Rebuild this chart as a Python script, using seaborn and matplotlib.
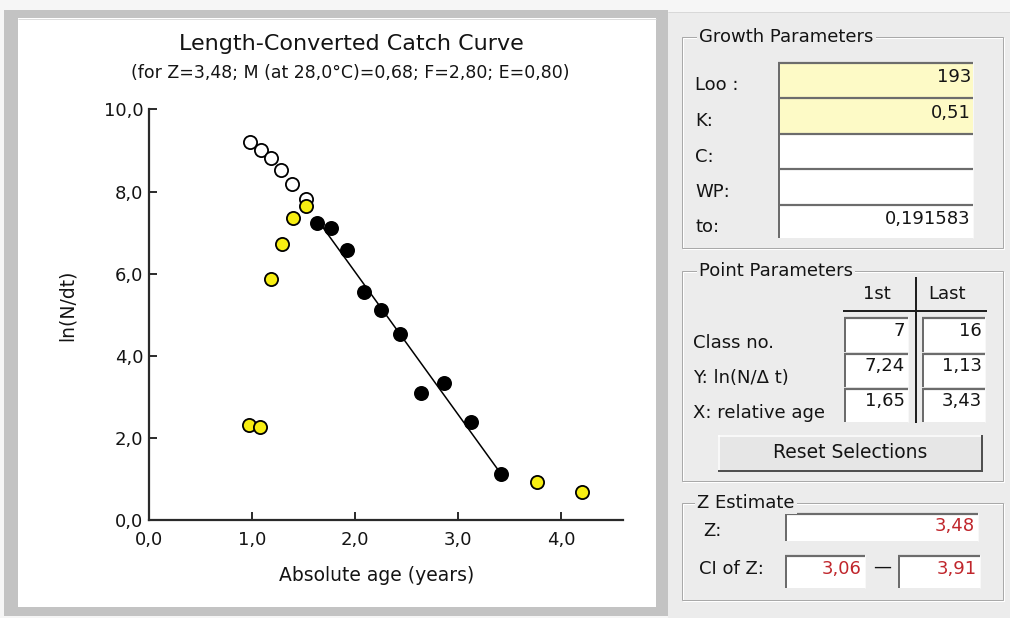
import matplotlib
matplotlib.use("Agg")
import matplotlib.pyplot as plt
import seaborn as sns
import pandas as pd
from matplotlib.patches import Rectangle

# ---------------- data ----------------
open_age = [0.98, 1.09, 1.18, 1.28, 1.39, 1.52]
open_lnN = [9.20, 9.02, 8.82, 8.52, 8.19, 7.81]
excl_age = [0.97, 1.08, 1.18, 1.29, 1.40, 1.52, 3.77, 4.20]
excl_lnN = [2.31, 2.27, 5.86, 6.72, 7.36, 7.64, 0.92, 0.68]
sel_age = [1.63, 1.77, 1.92, 2.09, 2.25, 2.44, 2.64, 2.86, 3.13, 3.42]
sel_lnN = [7.23, 7.12, 6.57, 5.55, 5.11, 4.54, 3.10, 3.34, 2.38, 1.12]

x_ticks = [0, 1, 2, 3, 4]
x_tick_labels = ["0,0", "1,0", "2,0", "3,0", "4,0"]
y_ticks = [0, 2, 4, 6, 8, 10]
y_tick_labels = ["0,0", "2,0", "4,0", "6,0", "8,0", "10,0"]

title = "Length-Converted Catch Curve"
subtitle = "(for Z=3,48; M (at 28,0°C)=0,68; F=2,80; E=0,80)"
x_label = "Absolute age (years)"
y_label = "ln(N/dt)"

growth_labels = ["Loo :", "K:", "C:", "WP:", "to:"]
growth_values = ["193", "0,51", "", "", "0,191583"]
growth_highlight = [True, True, False, False, False]

point_labels = ["Class no.", "Y: ln(N/\u0394 t)", "X: relative age"]
point_first = ["7", "7,24", "1,65"]
point_last = ["16", "1,13", "3,43"]
point_headers = ["1st", "Last"]

z_value = "3,48"
z_ci = ["3,06", "3,91"]

# ---------------- style ----------------
sns.set_style("ticks")
plt.rcParams["font.family"] = ["DejaVu Sans"]
TXT = "#141414"
RED = "#c0262c"
PANEL = "#ececec"

W, H = 1010, 618
fig = plt.figure(figsize=(W / 100, H / 100), dpi=100, facecolor="#f6f6f6")

ui = fig.add_axes([0, 0, 1, 1], zorder=0)
ui.set_xlim(0, W)
ui.set_ylim(H, 0)
ui.axis("off")

PX = 0.72  # points per pixel


def rect(x0, y0, x1, y1, fc, ec="none", lw=0.0, z=1):
    ui.add_patch(Rectangle((x0, y0), x1 - x0, y1 - y0, fc=fc, ec=ec, lw=lw, zorder=z))


def line(xs, ys, c, lw, z=3):
    ui.plot(xs, ys, color=c, lw=lw * PX, solid_capstyle="butt", zorder=z)


# right panel and left frame
rect(668, 12, W, H, PANEL)
line([668, W], [12, 12], "#d8d8d8", 1)
rect(4, 10, 668, 616, "#c3c3c3")
rect(18, 18, 656, 607, "#ffffff")
line([18, 656], [18.5, 18.5], "#dcdcdc", 1)


def group(x0, y0, x1, y1, label, tx):
    ui.add_patch(Rectangle((x0 + 1, y0 + 1), x1 - x0, y1 - y0, fc="none", ec="#ffffff", lw=1 * PX, zorder=2))
    ui.add_patch(Rectangle((x0, y0), x1 - x0, y1 - y0, fc="none", ec="#a9a9a9", lw=1 * PX, zorder=2))
    ui.text(tx, y0, label, ha="left", va="center", fontsize=13, color=TXT, zorder=4,
            bbox=dict(fc=PANEL, ec="none", pad=1.5))


def field(x0, y0, x1, y1, fc="#ffffff"):
    rect(x0, y0, x1, y1, fc, z=2)
    line([x0 + 1, x0 + 1], [y1, y0], "#6c6c6c", 2)
    line([x0, x1], [y0 + 1, y0 + 1], "#6c6c6c", 2.2)
    line([x1, x1], [y0, y1], "#f8f8f8", 1)


# Growth parameters
group(682, 37, 1003, 248, "Growth Parameters", 699)
row_top = [62, 97, 133, 168, 204]
row_bot = [97, 133, 168, 204, 238]
for lab, val, hi, t, b in zip(growth_labels, growth_values, growth_highlight, row_top, row_bot):
    field(778, t, 973, b, "#fdfac6" if hi else "#ffffff")
    ui.text(695, (t + b) / 2 + 6, lab, ha="left", va="center", fontsize=13, color=TXT, zorder=4)
    if val:
        ui.text(971, (t + b) / 2 - 2, val, ha="right", va="center", fontsize=13, color=TXT, zorder=4)

# Point parameters
group(682, 271, 1003, 481, "Point Parameters", 699)
ui.text(877, 294, point_headers[0], ha="center", va="center", fontsize=13, color=TXT, zorder=4)
ui.text(947, 294, point_headers[1], ha="center", va="center", fontsize=13, color=TXT, zorder=4)
line([916, 916], [277, 423], "#202020", 2, z=5)
line([843, 987], [311, 311], "#202020", 2, z=5)
p_top = [317, 353, 388]
p_bot = [352, 387, 422]
for lab, v1, v2, t, b in zip(point_labels, point_first, point_last, p_top, p_bot):
    field(844, t, 908, b)
    field(922, t, 985, b)
    ui.text(693, (t + b) / 2 + 8, lab, ha="left", va="center", fontsize=13, color=TXT, zorder=4)
    ui.text(905, (t + b) / 2 - 4, v1, ha="right", va="center", fontsize=13, color=TXT, zorder=4)
    ui.text(982, (t + b) / 2 - 4, v2, ha="right", va="center", fontsize=13, color=TXT, zorder=4)

# Reset button
rect(718, 435, 983, 472, "#e6e6e6", z=2)
line([719, 719], [472, 435], "#ffffff", 1.5)
line([718, 983], [436, 436], "#ffffff", 1.5)
line([982, 982], [435, 472], "#505050", 2)
line([718, 983], [471, 471], "#505050", 2)
ui.text(850, 453, "Reset Selections", ha="center", va="center", fontsize=13.5, color=TXT, zorder=4)

# Z estimate
group(682, 503, 1003, 600, "Z Estimate", 697)
field(785, 513, 978, 541)
ui.text(703, 531, "Z:", ha="left", va="center", fontsize=13, color=TXT, zorder=4)
ui.text(975, 526, z_value, ha="right", va="center", fontsize=13, color=RED, zorder=4)
field(785, 555, 865, 588)
field(898, 555, 980, 588)
ui.text(699, 569, "CI of Z:", ha="left", va="center", fontsize=13, color=TXT, zorder=4)
ui.text(862, 569, z_ci[0], ha="right", va="center", fontsize=13, color=RED, zorder=4)
ui.text(882, 567, "\u2014", ha="center", va="center", fontsize=13, color=TXT, zorder=4)
ui.text(977, 569, z_ci[1], ha="right", va="center", fontsize=13, color=RED, zorder=4)

# Titles
ui.text(351, 44, title, ha="center", va="center", fontsize=16, color=TXT, zorder=4)
ui.text(350, 73, subtitle, ha="center", va="center", fontsize=12.5, color=TXT, zorder=4)

# ---------------- chart ----------------
x0p, x1p, y0p, y1p = 149, 622.7, 520, 109.5
ax = fig.add_axes([x0p / W, (H - y0p) / H, (x1p - x0p) / W, (y0p - y1p) / H], zorder=2)
ax.patch.set_alpha(0)

sns.regplot(x=sel_age, y=sel_lnN, ci=None, scatter=False, truncate=True,
            color="black", line_kws={"lw": 1.1, "zorder": 1}, ax=ax)

df_open = pd.DataFrame({"age": open_age, "lnN": open_lnN})
df_excl = pd.DataFrame({"age": excl_age, "lnN": excl_lnN})
df_sel = pd.DataFrame({"age": sel_age, "lnN": sel_lnN})
mk = dict(s=90, edgecolor="black", linewidth=1.3, ax=ax, legend=False)
sns.scatterplot(data=df_open, x="age", y="lnN", color="white", zorder=3, **mk)
sns.scatterplot(data=df_excl, x="age", y="lnN", color="#f7ee12", zorder=4, **mk)
sns.scatterplot(data=df_sel, x="age", y="lnN", color="black", zorder=5, **mk)

ax.set_xlim(0, 4.6)
ax.set_ylim(0, 10)
ax.set_xticks(x_ticks)
ax.set_xticklabels(x_tick_labels)
ax.set_yticks(y_ticks)
ax.set_yticklabels(y_tick_labels)
for side in ["top", "right"]:
    ax.spines[side].set_visible(False)
for side in ["left", "bottom"]:
    ax.spines[side].set_color("#2a2a2a")
    ax.spines[side].set_linewidth(1.6)
ax.tick_params(axis="both", direction="in", length=6, width=1.4, color="#2a2a2a",
               labelsize=13, labelcolor=TXT)
ax.tick_params(axis="x", pad=8)
ax.tick_params(axis="y", pad=4)
ax.set_xlabel(x_label, fontsize=13.5, color=TXT)
ax.set_ylabel(y_label, fontsize=13.5, color=TXT)
ax.xaxis.set_label_coords((377 - x0p) / (x1p - x0p), -(566 - y0p) / (y0p - y1p))
ax.yaxis.set_label_coords(-(x0p - 77) / (x1p - x0p), (y0p - 305) / (y0p - y1p))

fig.savefig("out.png", dpi=100, facecolor=fig.get_facecolor())
